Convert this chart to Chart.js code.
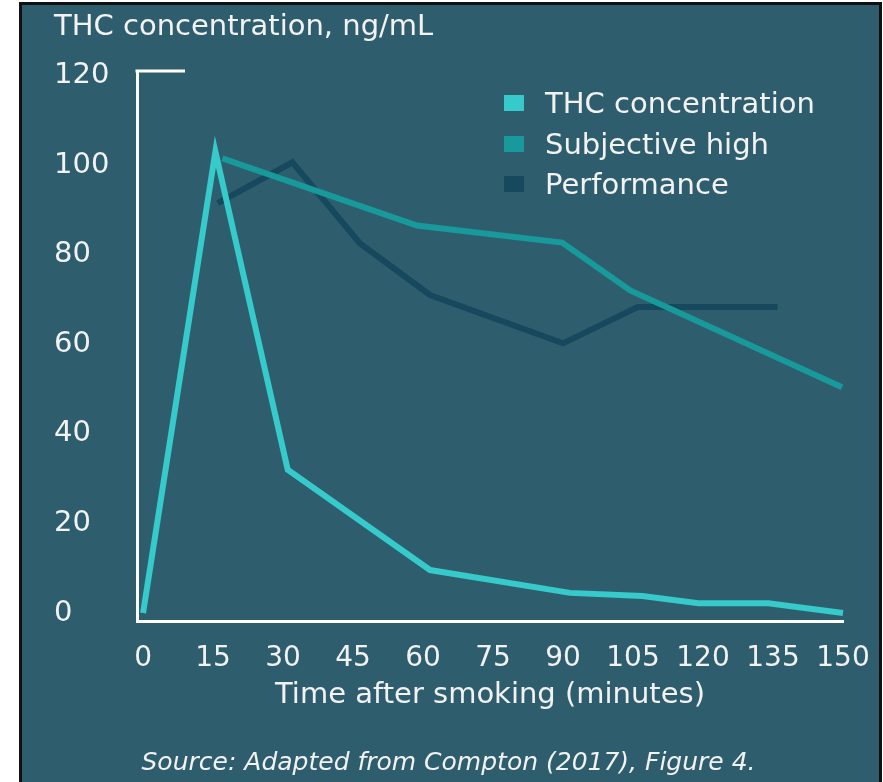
<!DOCTYPE html>
<html>
<head>
<meta charset="utf-8">
<title>THC concentration after smoking</title>
<script src="https://cdn.jsdelivr.net/npm/chart.js@4.4.1/dist/chart.umd.min.js"></script>
<style>
  html, body { margin: 0; padding: 0; background: #fff; }
  body { width: 883px; height: 782px; position: relative; overflow: hidden; font-family: "DejaVu Sans", sans-serif; }
  .frame {
    position: absolute; left: 19px; top: 2px; width: 857px; height: 800px;
    background: #2e5e6e; border: 3px solid #111;
  }
  #chart { position: absolute; left: 0; top: 0; }
  .legend { position: absolute; left: 504px; top: 83px; color: #f2f2f2; font-size: 29px; }
  .legend .row { display: flex; align-items: center; height: 40.5px; }
  .legend .box { width: 20px; height: 16px; margin-right: 21px; }
</style>
</head>
<body>
<div class="frame"></div>
<canvas id="chart" width="883" height="782"></canvas>
<div class="legend" id="legend"></div>

<script>
/* ---------------------------------------------------------------
   DATA
   --------------------------------------------------------------- */
const xTicks = [0, 15, 30, 45, 60, 75, 90, 105, 120, 135, 150];
const yTicks = [0, 20, 40, 60, 80, 100, 120];

const thcTime = [0, 15.5, 31, 61.5, 91.5, 107, 119, 134, 150];
const thcValue = [0, 103, 32, 9.6, 4.5, 3.8, 2.2, 2.2, 0];

const highTime = [17, 58.7, 89.8, 104.4, 149.8];
const highValue = [101.5, 86.5, 82.7, 72, 50.4];

const perfTime = [16, 32, 46.5, 61.5, 90, 106, 136];
const perfValue = [91.5, 100.6, 82.5, 71, 60.2, 68.3, 68.3];

const seriesNames = ["THC concentration", "Subjective high", "Performance"];
const seriesColors = ["#36caca", "#18999b", "#16485e"];

// Helper: pair x and y arrays into points
function toPoints(xs, ys) {
  return xs.map((x, i) => ({ x: x, y: ys[i] }));
}

/* ---------------------------------------------------------------
   Small cap on top of the y axis
   --------------------------------------------------------------- */
const axisCap = {
  id: "axisCap",
  afterDraw(chart) {
    const { ctx, chartArea } = chart;
    ctx.save();
    ctx.strokeStyle = "#ffffff";
    ctx.lineWidth = 3;
    ctx.beginPath();
    ctx.moveTo(chartArea.left - 1.5, chartArea.top);
    ctx.lineTo(chartArea.left + 48, chartArea.top);
    ctx.stroke();
    ctx.restore();
  }
};

const white = "#f2f2f2";
const font = "'DejaVu Sans', sans-serif";

const chart = new Chart(document.getElementById("chart"), {
  type: "line",
  data: {
    datasets: [
      { label: seriesNames[0], data: toPoints(thcTime, thcValue), borderColor: seriesColors[0], backgroundColor: seriesColors[0] },
      { label: seriesNames[1], data: toPoints(highTime, highValue), borderColor: seriesColors[1], backgroundColor: seriesColors[1] },
      { label: seriesNames[2], data: toPoints(perfTime, perfValue), borderColor: seriesColors[2], backgroundColor: seriesColors[2] }
    ]
  },
  options: {
    responsive: false,
    animation: false,
    layout: { padding: { left: 54, right: 40, top: 0, bottom: 4.4 } },
    elements: {
      line: { borderWidth: 6, tension: 0, borderJoinStyle: "miter", borderCapStyle: "butt" },
      point: { radius: 0 }
    },
    datasets: { line: { clip: false } },
    plugins: {
      legend: { display: false },
      tooltip: { enabled: false },
      title: {
        display: true,
        text: "THC concentration, ng/mL",
        align: "start",
        color: white,
        font: { family: font, size: 29, weight: "normal", lineHeight: 1.1 },
        padding: { top: 12, bottom: 27.1 }
      },
      subtitle: {
        display: true,
        position: "bottom",
        text: "Source: Adapted from Compton (2017), Figure 4.",
        color: white,
        font: { family: font, size: 25, style: "italic", lineHeight: 1.1 },
        padding: { top: 39, bottom: 0 }
      }
    },
    scales: {
      x: {
        type: "linear",
        min: -1.3,
        max: 150,
        afterBuildTicks: (scale) => { scale.ticks = xTicks.map(v => ({ value: v })); },
        afterFit: (scale) => { scale.height = 90; },
        grid: { display: false },
        border: { display: true, color: "#ffffff", width: 3 },
        ticks: {
          color: white, padding: 13, autoSkip: false, maxRotation: 0,
          font: { family: font, size: 28, lineHeight: 1.2 }
        },
        title: {
          display: true,
          text: "Time after smoking (minutes)",
          color: white,
          padding: { top: 0, bottom: 0 },
          font: { family: font, size: 29, lineHeight: 1.1 }
        }
      },
      y: {
        min: -1.8,
        max: 121,
        afterBuildTicks: (scale) => { scale.ticks = yTicks.map(v => ({ value: v })); },
        afterFit: (scale) => { scale.width = 83; },
        grid: { display: false },
        border: { display: true, color: "#ffffff", width: 3 },
        ticks: {
          color: white, crossAlign: "far",
          font: { family: font, size: 29, lineHeight: 1.2 }
        }
      }
    }
  },
  plugins: [axisCap]
});

/* ---------------------------------------------------------------
   Legend (column, top right inside the plot)
   --------------------------------------------------------------- */
const legendEl = document.getElementById("legend");
chart.data.datasets.forEach((ds) => {
  const row = document.createElement("div");
  row.className = "row";
  const box = document.createElement("span");
  box.className = "box";
  box.style.background = ds.borderColor;
  const label = document.createElement("span");
  label.textContent = ds.label;
  row.appendChild(box);
  row.appendChild(label);
  legendEl.appendChild(row);
});
</script>
</body>
</html>
